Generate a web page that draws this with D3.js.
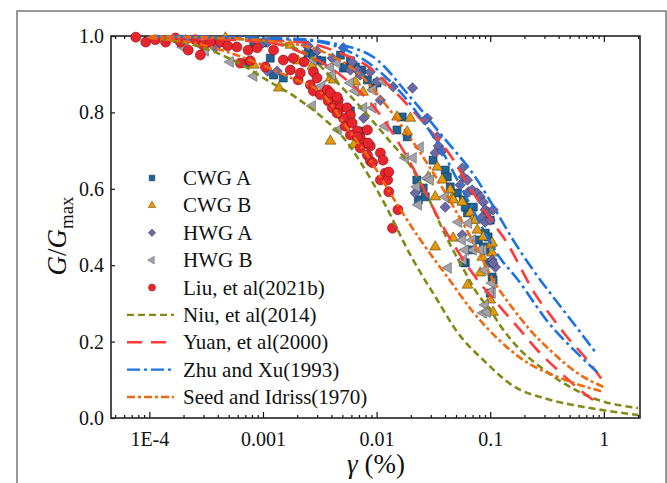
<!DOCTYPE html>
<html>
<head>
<meta charset="utf-8">
<script src="https://cdn.jsdelivr.net/npm/d3@7"></script>
<style>
  body { margin: 0; background: #fff; }
</style>
</head>
<body>
<script>
"use strict";

// ---- data: [gamma (%), G/Gmax] ----
const cwgA = [[6.9e-4,0.929],[8.3e-4,0.976],[1.0e-3,0.982],[1.16e-3,0.942],[1.24e-3,0.898],[1.51e-3,0.890],
  [2.5e-3,0.955],[2.78e-3,0.950],[2.99e-3,0.937],[3.3e-3,0.935],[4.8e-3,0.950],[5.1e-3,0.916],[5.31e-3,0.919],
  [5.88e-3,0.935],[6.5e-3,0.919],[7.4e-3,0.911],[8.3e-3,0.885],[9.3e-3,0.864],[0.0101,0.877],[5.88e-3,0.804],
  [6.75e-3,0.733],[7.19e-3,0.751],[0.0151,0.754],[0.0168,0.788],[0.0186,0.736],[0.0226,0.623],[0.0257,0.602],
  [0.0233,0.571],[0.0268,0.579],[0.0314,0.675],[0.0402,0.649],[0.0419,0.631],[0.0445,0.605],[0.0513,0.589],
  [0.058,0.571],[0.063,0.537],[0.0709,0.552],[0.0603,0.552],[0.0785,0.466],[0.0904,0.484],[0.0957,0.474],
  [0.1,0.518],[0.0667,0.440],[0.0603,0.406],[0.0904,0.440],[0.0957,0.406],[0.087,0.448],[0.058,0.408],
  [0.104,0.369],[0.1,0.327],[0.106,0.361]];

const cwgB = [[4.67e-4,0.995],[1.74e-3,0.976],[8.3e-4,0.924],[1.38e-3,0.864],[2.04e-3,0.935],[2.72e-3,0.921],
  [3.92e-3,0.890],[4.2e-3,0.885],[6.5e-3,0.880],[7.6e-3,0.853],[3.92e-3,0.725],[6.3e-3,0.715],[0.0151,0.788],
  [0.0198,0.785],[0.0186,0.749],[0.0285,0.631],[0.0328,0.579],[0.0342,0.657],[0.0378,0.623],[0.0445,0.597],
  [0.0463,0.576],[0.0472,0.571],[0.0568,0.565],[0.0667,0.537],[0.0695,0.518],[0.0738,0.518],[0.0769,0.492],
  [0.087,0.474],[0.1,0.453],[0.104,0.458],[0.085,0.421],[0.104,0.432],[0.0817,0.380],[0.0472,0.471],
  [0.0328,0.448],[0.0631,0.348],[0.106,0.277],[0.1,0.309]];

const hwgA = [[2.08e-4,0.990],[3.3e-4,0.982],[3.7e-4,0.982],[3.81e-4,0.969],[1.0e-3,0.982],[1.1e-3,0.984],
  [1.1e-3,0.908],[1.33e-3,0.908],[2.4e-3,0.976],[2.5e-3,0.974],[2.99e-3,0.961],[4.08e-3,0.942],[5.1e-3,0.969],
  [5.88e-3,0.911],[6.75e-3,0.911],[7.19e-3,0.898],[6.1e-3,0.932],[7.7e-3,0.785],[8.8e-3,0.906],[0.0101,0.880],
  [0.0108,0.832],[0.014,0.867],[0.0207,0.864],[0.028,0.785],[0.0268,0.780],[0.0342,0.736],[0.035,0.712],
  [0.0328,0.694],[0.0378,0.699],[0.0402,0.552],[0.0568,0.654],[0.058,0.631],[0.0545,0.610],[0.063,0.623],
  [0.0645,0.592],[0.0695,0.597],[0.0769,0.589],[0.0817,0.579],[0.087,0.565],[0.0904,0.545],[0.0957,0.539],
  [0.085,0.526],[0.0904,0.513],[0.1,0.518],[0.106,0.545],[0.0219,0.589],[0.0568,0.479],[0.104,0.414],
  [0.111,0.395],[0.106,0.406]];

const hwgB = [[1.97e-4,0.971],[3.11e-4,0.961],[5.16e-4,0.932],[8.3e-4,0.895],[2.78e-3,0.937],[3.92e-3,0.919],
  [4.5e-3,0.929],[2.72e-3,0.817],[3.3e-3,0.869],[4.08e-3,0.898],[5.88e-3,0.877],[6.5e-3,0.856],[9.3e-3,0.859],
  [0.0114,0.882],[9.3e-3,0.812],[4.6e-3,0.754],[7.7e-3,0.812],[0.0119,0.764],[0.0179,0.681],[0.021,0.681],
  [0.0242,0.709],[0.028,0.628],[0.0297,0.623],[0.0226,0.605],[0.0233,0.558],[0.0402,0.579],[0.0525,0.513],
  [0.0645,0.510],[0.0568,0.466],[0.0695,0.466],[0.0709,0.440],[0.087,0.440],[0.0603,0.440],[0.058,0.414],
  [0.0904,0.387],[0.104,0.353],[0.0427,0.393],[0.104,0.327],[0.0904,0.296],[0.087,0.275],[0.094,0.277],
  [0.0817,0.440],[0.1,0.330]];

const liu = [[7.6e-5,0.997],[9.3e-5,0.984],[1.13e-4,0.990],[1.39e-4,0.984],[1.70e-4,0.995],[1.88e-4,0.984],
  [2.2e-4,0.963],[2.55e-4,0.990],[2.81e-4,0.950],[2.98e-4,0.976],[3.44e-4,0.984],[4.22e-4,0.984],[4.9e-4,0.974],
  [5.9e-4,0.971],[6.32e-4,0.929],[7.4e-4,0.963],[7.74e-4,0.935],[8.9e-4,0.969],[1.05e-3,0.919],[1.24e-3,0.963],
  [1.51e-3,0.937],[1.74e-3,0.911],[1.84e-3,0.942],[2.04e-3,0.885],[2.13e-3,0.903],[2.3e-3,0.932],[2.61e-3,0.872],
  [2.78e-3,0.906],[2.99e-3,0.890],[2.78e-3,0.856],[3.2e-3,0.846],[3.67e-3,0.859],[4.08e-3,0.843],[3.75e-3,0.830],
  [4.6e-3,0.832],[4.08e-3,0.812],[4.8e-3,0.812],[5.5e-3,0.812],[5.88e-3,0.793],[5.1e-3,0.785],[4.5e-3,0.798],
  [5.31e-3,0.764],[6.1e-3,0.772],[6.75e-3,0.751],[5.88e-3,0.741],[7.19e-3,0.733],[7.7e-3,0.720],[8.8e-3,0.712],
  [7.19e-3,0.707],[8.3e-3,0.688],[8.8e-3,0.673],[3.92e-3,0.851],[4.5e-3,0.840],[8.3e-3,0.754],[6.75e-3,0.736],
  [8.4e-3,0.720],[0.0108,0.694],[0.0114,0.675],[9.2e-3,0.668],[0.0119,0.641],[0.0108,0.623],[0.0128,0.592],
  [0.0125,0.623],[0.0154,0.545],[0.0138,0.497],[0.0128,0.644]];

// reference curves (upper and lower of each source)
const niuLow = [[1e-4,0.995],[1.9e-4,0.984],[3.4e-4,0.963],[6.3e-4,0.927],[1.05e-3,0.887],[1.93e-3,0.840],
  [3.54e-3,0.780],[5.3e-3,0.728],[7.2e-3,0.670],[0.0119,0.558],[0.0198,0.427],[0.0342,0.309],[0.0513,0.225],
  [0.0904,0.147],[0.159,0.084],[0.317,0.050],[0.758,0.026],[2.0,0.008]];
const niuUp = [[1e-4,0.998],[7.7e-4,0.990],[2.13e-3,0.963],[3.92e-3,0.895],[6.0e-3,0.840],[0.0132,0.723],
  [0.0198,0.660],[0.0285,0.576],[0.0402,0.479],[0.0568,0.395],[0.0785,0.322],[0.1,0.283],[0.122,0.243],
  [0.184,0.178],[0.275,0.134],[0.438,0.092],[0.758,0.055],[2.0,0.026]];
const yuanUp = [[1e-4,0.998],[2.13e-3,0.984],[4.8e-3,0.955],[8.8e-3,0.916],[0.014,0.859],[0.0198,0.812],
  [0.0279,0.762],[0.0445,0.688],[0.0667,0.602],[0.106,0.510],[0.141,0.458],[0.184,0.395],[0.239,0.332],
  [0.337,0.270],[0.475,0.212],[0.713,0.152],[1.0,0.094]];
const yuanLow = [[1e-4,0.998],[1.16e-3,0.982],[2.13e-3,0.958],[4.8e-3,0.898],[0.0108,0.793],[0.0198,0.668],
  [0.0378,0.505],[0.0695,0.380],[0.122,0.291],[0.184,0.230],[0.259,0.178],[0.412,0.120],[0.619,0.073],[0.805,0.047]];
const zhuUp = [[1e-4,0.999],[2.13e-3,0.992],[3.92e-3,0.982],[9.35e-3,0.945],[0.0198,0.840],[0.0363,0.745],
  [0.0769,0.623],[0.115,0.537],[0.159,0.466],[0.239,0.387],[0.337,0.327],[0.537,0.249],[0.839,0.173]];
const zhuLow = [[1e-4,0.999],[2.13e-3,0.990],[5.88e-3,0.958],[0.0162,0.853],[0.0363,0.707],[0.0667,0.558],
  [0.122,0.419],[0.173,0.364],[0.317,0.254],[0.619,0.162],[0.873,0.120]];
const seedUp = [[1e-4,0.999],[2.81e-4,0.997],[1.42e-3,0.984],[3.92e-3,0.950],[7.19e-3,0.898],[0.0119,0.822],
  [0.0198,0.733],[0.0297,0.654],[0.0492,0.545],[0.0817,0.427],[0.106,0.361],[0.150,0.296],[0.225,0.230],
  [0.358,0.170],[0.582,0.118],[1.0,0.081]];
const seedLow = [[1e-4,0.995],[2.81e-4,0.978],[7.7e-4,0.937],[1.74e-3,0.891],[3.4e-3,0.846],[5.53e-3,0.759],
  [8.81e-3,0.675],[0.0138,0.579],[0.0233,0.474],[0.0427,0.366],[0.0709,0.277],[0.115,0.209],[0.195,0.152],
  [0.412,0.105],[1.0,0.068]];

const xTicks = [1e-4, 1e-3, 1e-2, 1e-1, 1];
const xTickLabels = ["1E-4", "0.001", "0.01", "0.1", "1"];
const yTicks = [0, 0.2, 0.4, 0.6, 0.8, 1.0];

const W = 667, H = 483;
const plot = { left: 111, top: 36, right: 640, bottom: 418 };
const serif = "'Liberation Serif', 'Times New Roman', serif";

const svg = d3.select("body").append("svg")
  .attr("width", W).attr("height", H);

// outer frame
svg.append("path")
  .attr("d", `M17,${H + 2} L17,11 L666,11 L666,${H + 2}`)
  .attr("fill", "none").attr("stroke", "#777").attr("stroke-width", 1.5);

const x = d3.scaleLog().domain([4.6e-5, 2.08]).range([plot.left, plot.right]);
const y = d3.scaleLinear().domain([0, 1]).range([plot.bottom, plot.top]);

svg.append("clipPath").attr("id", "clip")
  .append("rect").attr("x", plot.left).attr("y", plot.top - 2)
  .attr("width", plot.right - plot.left).attr("height", plot.bottom - plot.top + 2);

// minor ticks for log axis
const minor = [];
for (let e = -5; e <= 0; e++) {
  for (let k = 2; k <= 9; k++) {
    const v = k * Math.pow(10, e);
    if (v >= x.domain()[0] && v <= x.domain()[1]) minor.push(v);
  }
}

function styleAxis(g) {
  g.select(".domain").remove();
  g.selectAll("line").attr("stroke", "#111").attr("stroke-width", 1.2);
  g.selectAll("text").style("font-family", serif).attr("font-size", 20).attr("fill", "#111");
}

svg.append("g").attr("transform", `translate(0,${plot.bottom})`)
  .call(d3.axisBottom(x).tickValues(xTicks).tickSizeInner(-6).tickSizeOuter(0).tickPadding(14)
    .tickFormat((d, i) => xTickLabels[i]))
  .call(styleAxis);

svg.append("g").attr("transform", `translate(0,${plot.bottom})`)
  .call(d3.axisBottom(x).tickValues(minor).tickSizeInner(-3).tickSizeOuter(0).tickFormat(""))
  .call(styleAxis);

svg.append("g").attr("transform", `translate(0,${plot.top})`)
  .call(d3.axisTop(x).tickValues(xTicks).tickSizeInner(-6).tickSizeOuter(0).tickFormat(""))
  .call(styleAxis);
svg.append("g").attr("transform", `translate(0,${plot.top})`)
  .call(d3.axisTop(x).tickValues(minor).tickSizeInner(-3).tickSizeOuter(0).tickFormat(""))
  .call(styleAxis);

svg.append("g").attr("transform", `translate(${plot.left},0)`)
  .call(d3.axisLeft(y).tickValues(yTicks).tickSizeInner(-4).tickSizeOuter(0).tickPadding(7)
    .tickFormat(d3.format(".1f")))
  .call(styleAxis);

// plot frame
svg.append("rect")
  .attr("x", plot.left).attr("y", plot.top)
  .attr("width", plot.right - plot.left).attr("height", plot.bottom - plot.top)
  .attr("fill", "none").attr("stroke", "#222").attr("stroke-width", 1.6);

// series definitions
const pointSeries = [
  { name: "CWG A", data: cwgA, shape: d3.symbolSquare, size: 64, rot: 0, fill: "#1d6396", stroke: "#16334d" },
  { name: "CWG B", data: cwgB, shape: d3.symbolTriangle, size: 50, rot: 0, fill: "#e39a0c", stroke: "#5e4200" },
  { name: "HWG A", data: hwgA, shape: d3.symbolSquare, size: 54, rot: 45, fill: "#6b69a6", stroke: "#35345f" },
  { name: "HWG B", data: hwgB, shape: d3.symbolTriangle, size: 50, rot: -90, fill: "#a2a2a8", stroke: "#5d5d66" },
  { name: "Liu, et al(2021b)", data: liu, shape: d3.symbolCircle, size: 78, rot: 0, fill: "#e8252d", stroke: "#7e1015" }
];

const lineSeries = [
  { name: "Niu, et al(2014)", curves: [niuLow, niuUp], color: "#818b14", dash: "7,4" },
  { name: "Yuan, et al(2000)", curves: [yuanUp, yuanLow], color: "#ff3a3a", dash: "15,9" },
  { name: "Zhu and Xu(1993)", curves: [zhuUp, zhuLow], color: "#1c72e2", dash: "13,4,3,4" },
  { name: "Seed and Idriss(1970)", curves: [seedUp, seedLow], color: "#f1680d", dash: "8,3,3,3" }
];

const pts = svg.append("g");
pointSeries.forEach(s => {
  pts.append("g").selectAll("path").data(s.data).enter().append("path")
    .attr("d", d3.symbol().type(s.shape).size(s.size))
    .attr("transform", d => `translate(${x(d[0])},${y(d[1])}) rotate(${s.rot})`)
    .attr("fill", s.fill).attr("stroke", s.stroke).attr("stroke-width", 0.6);
});

const line = d3.line().x(d => x(d[0])).y(d => y(d[1])).curve(d3.curveMonotoneX);
const lines = svg.append("g").attr("clip-path", "url(#clip)");
lineSeries.forEach(s => {
  s.curves.forEach(c => {
    lines.append("path").datum(c).attr("d", line)
      .attr("fill", "none").attr("stroke", s.color).attr("stroke-width", 2.6)
      .attr("stroke-dasharray", s.dash);
  });
});

// legend
const legend = svg.append("g");
const rowY = d3.scaleLinear().domain([0, 8]).range([178, 397]);
pointSeries.forEach((s, i) => {
  legend.append("path")
    .attr("d", d3.symbol().type(s.shape).size(s.size * 0.5))
    .attr("transform", `translate(152,${rowY(i)}) rotate(${s.rot})`)
    .attr("fill", s.fill).attr("stroke", s.stroke).attr("stroke-width", 0.5);
  legend.append("text").attr("x", 183).attr("y", rowY(i) + 7)
    .style("font-family", serif).attr("font-size", 21).attr("fill", "#111").text(s.name);
});
lineSeries.forEach((s, j) => {
  const i = j + pointSeries.length;
  legend.append("line").attr("x1", 127).attr("x2", 174)
    .attr("y1", rowY(i)).attr("y2", rowY(i))
    .attr("stroke", s.color).attr("stroke-width", 2.4).attr("stroke-dasharray", s.dash);
  legend.append("text").attr("x", 183).attr("y", rowY(i) + 7)
    .style("font-family", serif).attr("font-size", 21).attr("fill", "#111").text(s.name);
});

// axis titles
const yl = svg.append("text")
  .style("font-family", serif).attr("fill", "#111")
  .attr("transform", "translate(66,236) rotate(-90)")
  .attr("text-anchor", "middle").attr("font-size", 27);
yl.append("tspan").attr("font-style", "italic").text("G");
yl.append("tspan").text("/");
yl.append("tspan").attr("font-style", "italic").text("G");
yl.append("tspan").attr("font-size", 19).attr("dy", 7).text("max");

const xl = svg.append("text")
  .style("font-family", serif).attr("fill", "#111")
  .attr("x", 376).attr("y", 473)
  .attr("text-anchor", "middle").attr("font-size", 27);
xl.append("tspan").attr("font-style", "italic").text("γ");
xl.append("tspan").text(" (%)");
</script>
</body>
</html>
